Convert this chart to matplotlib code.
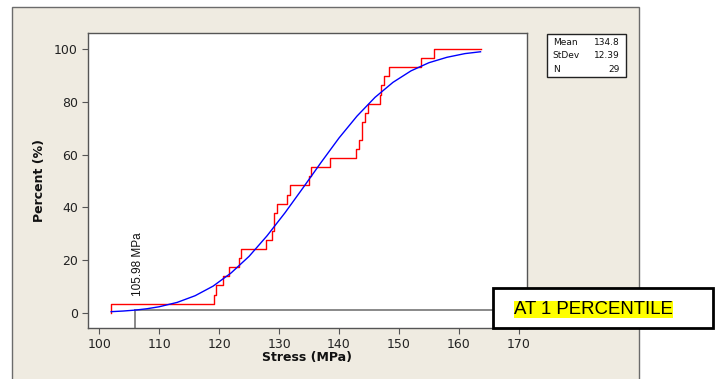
import matplotlib
matplotlib.use("Agg")
import numpy as np
import matplotlib.pyplot as plt
from matplotlib.patches import Rectangle

# stress values (29 specimens)
stress = [102.0, 119.2, 119.4, 120.7, 121.7, 123.4, 123.6, 127.9, 128.8, 129.1,
          129.2, 129.7, 131.4, 131.9, 135.0, 135.4, 138.5, 142.8, 143.3, 143.8,
          143.9, 144.4, 144.8, 146.9, 147.0, 147.5, 148.3, 153.7, 155.9]
# fitted normal curve
fit_x = [102, 104, 106, 108, 110, 113, 116, 119, 122, 125, 128, 131, 134,
         137, 140, 143, 146, 149, 152, 155, 158, 161, 163.6]
fit_pct = [0.41, 0.65, 1.0, 1.53, 2.27, 3.92, 6.46, 10.1, 15.1, 21.4, 29.2, 37.95, 47.4,
           57.0, 66.3, 74.6, 81.7, 87.4, 91.75, 94.85, 96.9, 98.3, 99.0]
stats_labels = ["Mean", "StDev", "N"]
stats_values = ["134.8", "12.39", "29"]
p1_stress = 105.98
p1_pct = 1
x_ticks = [100, 110, 120, 130, 140, 150, 160, 170]
y_ticks = [0, 20, 40, 60, 80, 100]

W, H = 719, 379
fig = plt.figure(figsize=(W / 100, H / 100), dpi=100)
fig.patch.set_facecolor("white")


def fx(px):
    return px / W


def fy(py):
    return 1 - py / H


# beige panel behind the plot
panel = Rectangle((fx(12.3), -0.05), fx(639.3) - fx(12.3), fy(7.3) + 0.05,
                  transform=fig.transFigure, fc="#EFEBE1", ec="#6b6b6b", lw=1, zorder=-1)
fig.add_artist(panel)

ax = fig.add_axes([fx(87.5), fy(328.3), fx(526.7) - fx(87.5), fy(33.3) - fy(328.3)])
ax.set_facecolor("white")

# empirical CDF
n = len(stress)
xs = np.sort(stress)
step_x = np.concatenate([[xs[0]], xs, [fit_x[-1]]])
step_y = np.concatenate([[0], np.arange(1, n + 1) / n * 100, [100]])
ax.step(step_x, step_y, where="post", color="#FF0000", lw=1.0, zorder=3)

# fitted curve
ax.plot(fit_x, fit_pct, color="#0000FF", lw=1.0, zorder=4)

# 1st percentile marker lines
ax.plot([p1_stress, p1_stress], [-5.9, p1_pct], color="#808080", lw=1.3, zorder=2)
ax.plot([p1_stress, 171.3], [p1_pct, p1_pct], color="#808080", lw=1.3, zorder=2)
ax.text(106.4, 6.3, "105.98 MPa", rotation=90, ha="center", va="bottom",
        fontsize=8.5, family="Liberation Sans", color="#111111")

ax.set_xlim(98.05, 171.3)
ax.set_ylim(-5.9, 106)
ax.set_xticks(x_ticks)
ax.set_yticks(y_ticks)
ax.tick_params(direction="out", length=4, width=0.8, color="#555555",
               labelsize=9, labelcolor="#222222", pad=3)
for s in ax.spines.values():
    s.set_color("#555555")
    s.set_linewidth(1.0)

ax.set_xlabel("Stress (MPa)", fontsize=9, fontweight="bold", va="center", color="#111111")
ax.xaxis.set_label_coords(0.5, -0.098)
ax.set_ylabel("Percent (%)", fontsize=9, fontweight="bold", va="center", color="#111111")
ax.yaxis.set_label_coords((40 - 87.5) / (526.7 - 87.5), 0.5)

# stats box
fig.add_artist(Rectangle((fx(547.3), fy(77.3)), fx(625.7) - fx(547.3), fy(33.7) - fy(77.3),
                         transform=fig.transFigure, fc="white", ec="#222222", lw=1, zorder=3))
for i, (lab, val) in enumerate(zip(stats_labels, stats_values)):
    yy = fy(42.7 + i * 13.3)
    fig.text(fx(552.7), yy, lab, ha="left", va="center", fontsize=6.5, color="#111111", zorder=4)
    fig.text(fx(619.5), yy, val, ha="right", va="center", fontsize=6.5, color="#111111", zorder=4)

# annotation box
fig.add_artist(Rectangle((fx(493), fy(328.3)), fx(713) - fx(493), fy(288.3) - fy(328.3),
                         transform=fig.transFigure, fc="white", ec="black", lw=2, zorder=5))
fig.text(fx(514), fy(309.5), "AT 1 PERCENTILE", ha="left", va="center", fontsize=13.4,
         family="Liberation Sans", color="black", zorder=6,
         bbox=dict(boxstyle="square,pad=0", fc="#FFFF00", ec="none"))

fig.savefig("out.png", dpi=100)
